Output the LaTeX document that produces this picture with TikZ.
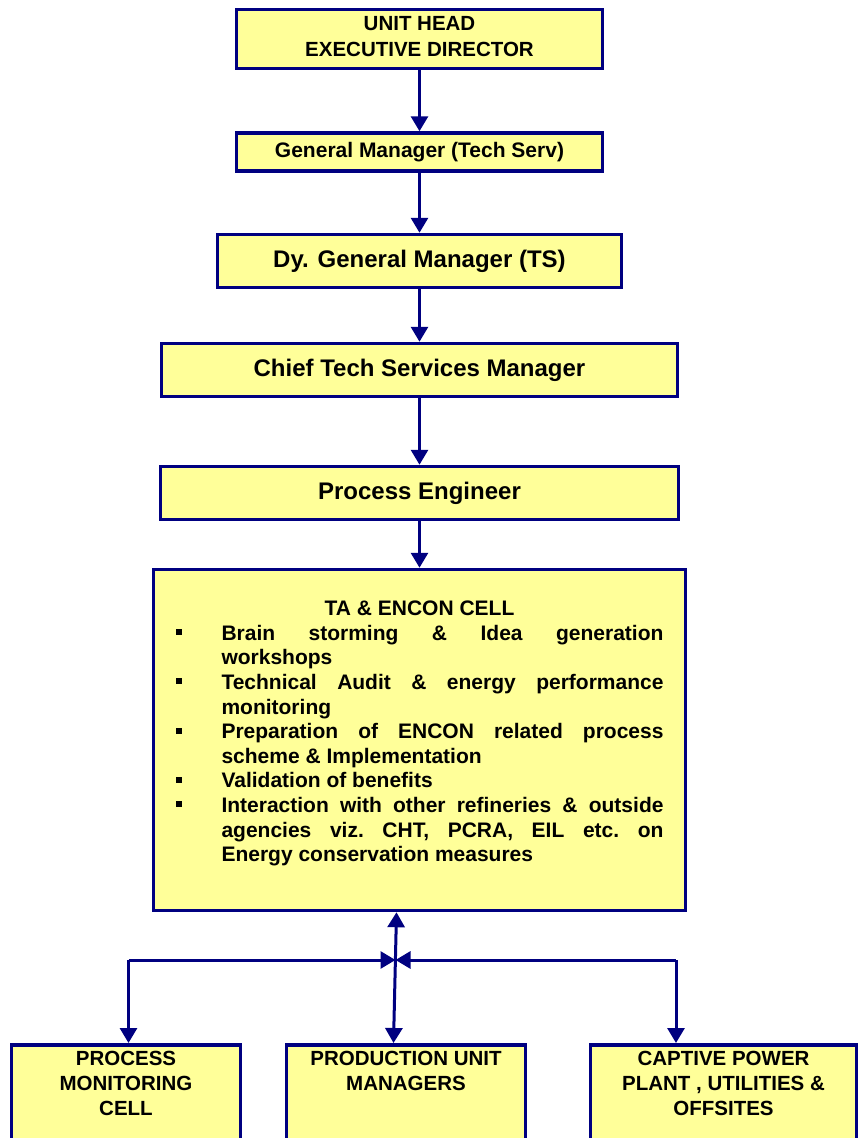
\documentclass[tikz,border=0pt]{standalone}
\usepackage{fontspec}
\setmainfont{Liberation Sans}
\usepackage{xcolor}
\usetikzlibrary{arrows.meta}

\definecolor{navyline}{RGB}{0,0,128}
\definecolor{boxfill}{RGB}{255,255,153}

% square-bullet list used in the TA & ENCON cell
\newenvironment{encitems}{%
  \begin{list}{\rule[5pt]{6pt}{6pt}}{%
    \setlength{\leftmargin}{46pt}\setlength{\labelwidth}{46pt}%
    \setlength{\labelsep}{0pt}\setlength{\itemindent}{0pt}%
    \setlength{\itemsep}{0pt}\setlength{\parsep}{0pt}%
    \setlength{\topsep}{0pt}\setlength{\partopsep}{0pt}%
    \renewcommand{\makelabel}[1]{##1\hfil}}}%
  {\end{list}}

\begin{document}
\begin{tikzpicture}[x=1pt, y=-1pt,
    orgbox/.style={draw=navyline, line width=3.5pt, fill=boxfill, inner sep=0pt, align=center},
    flow/.style={draw=navyline, line width=3pt, -{Triangle[length=15pt,width=17pt]}},
    twoway/.style={draw=navyline, line width=3pt, {Triangle[length=15pt,width=17pt]}-{Triangle[length=15pt,width=17pt]}}]
    \useasboundingbox (0,0) rectangle (865,1138);
    \clip (0,0) rectangle (865,1138);

    % chain of command
    \node[orgbox, minimum width=366, minimum height=59, text depth=6pt, font=\bfseries\fontsize{20.5}{26}\selectfont] (head) at (419.5,39) {UNIT HEAD\\EXECUTIVE DIRECTOR};
    \node[orgbox, minimum width=366, minimum height=38, font=\bfseries\fontsize{21}{25}\selectfont] (gm) at (419.5,152) {General Manager (Tech Serv)};
    \node[orgbox, minimum width=404, minimum height=53, font=\bfseries\fontsize{24}{28}\selectfont] (dgm) at (419.5,261) {Dy. General Manager (TS)};
    \node[orgbox, minimum width=516, minimum height=53, font=\bfseries\fontsize{24}{28}\selectfont] (ctsm) at (419.5,370) {Chief Tech Services Manager};
    \node[orgbox, minimum width=518, minimum height=53, font=\bfseries\fontsize{24}{28}\selectfont] (pe) at (419.5,493) {Process Engineer};

    \node[orgbox, minimum width=532, minimum height=341, font=\bfseries\fontsize{21}{24.6}\selectfont] (ta) at (419.5,740)
      {\parbox[c][341pt][t]{488pt}{\frenchspacing\vspace*{31.5pt}%
        {\centering TA \& ENCON CELL\par}
        \begin{encitems}
          \item \makebox[\linewidth][s]{Brain storming \& Idea generation}\\workshops
          \item \makebox[\linewidth][s]{Technical Audit \& energy performance}\\monitoring
          \item \makebox[\linewidth][s]{Preparation of ENCON related process}\\scheme \& Implementation
          \item Validation of benefits
          \item \makebox[\linewidth][s]{Interaction with other refineries \& outside}\\
                \makebox[\linewidth][s]{agencies viz. CHT, PCRA, EIL etc. on}\\Energy conservation measures
        \end{encitems}}};

    % cells under the TA & ENCON cell
    \node[orgbox, anchor=north, minimum width=229, minimum height=130, font=\bfseries\fontsize{20.5}{25}\selectfont] (pmc) at (126,1043)
      {\parbox[c][130pt][t]{229pt}{\centering\vspace*{6pt}PROCESS\\MONITORING\\CELL}};
    \node[orgbox, anchor=north, minimum width=239, minimum height=130, font=\bfseries\fontsize{20.5}{25}\selectfont] (pum) at (406,1043)
      {\parbox[c][130pt][t]{239pt}{\centering\vspace*{6pt}PRODUCTION UNIT\\MANAGERS}};
    \node[orgbox, anchor=north, minimum width=266, minimum height=130, font=\bfseries\fontsize{20.5}{25}\selectfont] (cpp) at (723.5,1043)
      {\parbox[c][130pt][t]{266pt}{\centering\vspace*{6pt}CAPTIVE POWER\\PLANT , UTILITIES \&\\OFFSITES}};

    \draw[flow] (head.south) -- (gm.north);
    \draw[flow] (gm.south) -- (dgm.north);
    \draw[flow] (dgm.south) -- (ctsm.north);
    \draw[flow] (ctsm.south) -- (pe.north);
    \draw[flow] (pe.south) -- (ta.north);

    \coordinate (hub) at (395.5,960);
    \coordinate (lcorner) at (128.5,960);
    \coordinate (rcorner) at (676,960);
    \draw[twoway] ([xshift=-23pt]ta.south) -- ([xshift=-12.5pt]pum.north);
    \draw[flow] (lcorner) -- (hub);
    \draw[flow] (rcorner) -- (hub);
    \draw[flow] (lcorner) -- (lcorner |- pmc.north);
    \draw[flow] (rcorner) -- (rcorner |- cpp.north);
\end{tikzpicture}
\end{document}
